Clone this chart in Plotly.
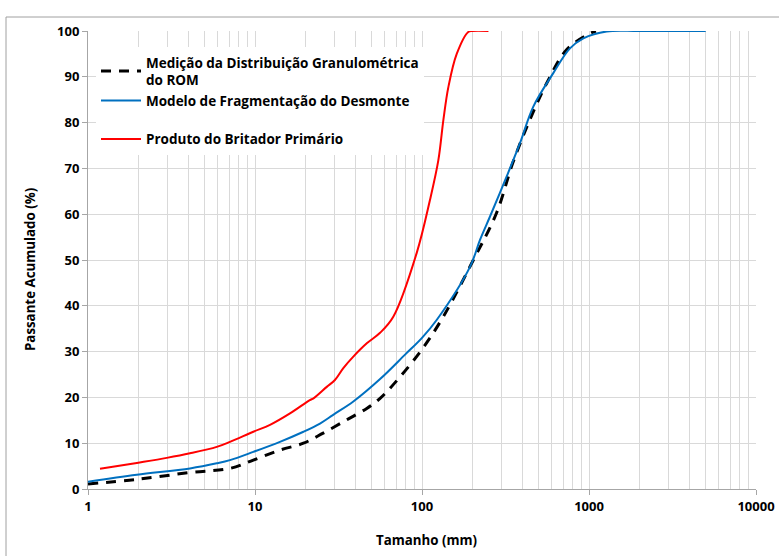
import plotly.graph_objects as go

# Medição da Distribuição Granulométrica do ROM
med_x = [1.0, 1.96, 4.08, 7.08, 9.77, 14.1, 19.5, 25.6, 35.4, 46.7, 56.1, 70, 100, 134, 203, 279, 349, 442, 558, 734, 969, 1100]
med_y = [1.1, 2.1, 3.6, 4.5, 6.3, 8.5, 10.0, 12.2, 15.1, 17.6, 19.8, 23.5, 30.5, 37.6, 50.0, 60.2, 71.1, 80.6, 88.6, 95.9, 99.1, 100]

# Modelo de Fragmentação do Desmonte
mod_x = [1.0, 1.96, 4.08, 5.9, 7.08, 9.77, 14.1, 19.5, 24.5, 29.4, 38.8, 56.1, 80, 100, 122.4, 193.8, 222.5, 255.4, 321, 386, 464, 611, 769, 925, 1276, 2000, 5000]
mod_y = [1.6, 3.1, 4.5, 5.6, 6.3, 8.1, 10.3, 12.5, 14.3, 16.2, 19.1, 24.0, 29.5, 33.0, 36.9, 48.5, 54.4, 59.5, 68.2, 75.5, 83.5, 90.8, 96.2, 98.4, 99.9, 100, 100]

# Produto do Britador Primário
bri_x = [1.18, 1.96, 2.96, 4.08, 5.9, 7.08, 9.77, 12.3, 16.2, 21.3, 22.4, 26.9, 30.1, 33.8, 38.8, 46.7, 56.1, 67.3, 92.9, 111.6, 125.3, 134.3, 143.9, 161.4, 189.3, 200, 250]
bri_y = [4.4, 5.7, 6.8, 7.8, 9.2, 10.3, 12.5, 14.0, 16.5, 19.4, 19.8, 22.3, 23.8, 26.4, 28.9, 31.8, 34.1, 37.6, 51.5, 63.1, 71.8, 80.6, 87.8, 95.0, 99.8, 100, 100]

x_ticks = [1, 10, 100, 1000, 10000]
y_ticks = [0, 10, 20, 30, 40, 50, 60, 70, 80, 90, 100]

FONT = "Open Sans"
W, H = 779, 556
L, R, T, B = 88, 23, 31, 67
pw, ph = W - L - R, H - T - B

def px(xp):
    return (xp - L) / pw

def py(yp):
    return (H - B - yp) / ph

fig = go.Figure()
fig.add_trace(go.Scatter(x=med_x, y=med_y, mode="lines", line=dict(color="black", width=3, dash="10px,8px"),
                         name="Medição da Distribuição Granulométrica<br>do ROM", legendgroup="a", line_shape="spline"))
fig.add_trace(go.Scatter(x=mod_x, y=mod_y, mode="lines", line=dict(color="#0070C0", width=2),
                         name="Modelo de Fragmentação do Desmonte", legendgroup="a", line_shape="spline"))
fig.add_trace(go.Scatter(x=bri_x, y=bri_y, mode="lines", line=dict(color="#FF0000", width=2),
                         name="Produto do Britador Primário", legendgroup="b", line_shape="spline"))

title_font = dict(family=FONT, size=13.3, color="black", weight="bold")

fig.update_layout(
    width=W, height=H,
    margin=dict(l=L, r=R, t=T, b=B, autoexpand=False),
    paper_bgcolor="white", plot_bgcolor="white",
    font=dict(family=FONT, color="black", size=13),
    showlegend=True,
    legend=dict(x=px(96), y=py(47), xanchor="left", yanchor="top", bgcolor="white",
                font=dict(family=FONT, size=13.5, color="black", weight="bold"),
                tracegroupgap=18, itemwidth=40),
    xaxis=dict(type="log", range=[0, 4], tickvals=x_ticks, ticktext=[str(v) for v in x_ticks],
               showgrid=True, gridcolor="#d9d9d9", gridwidth=1, automargin=False,
               minor=dict(dtick="D1", showgrid=True, gridcolor="#d9d9d9", gridwidth=1, ticks=""),
               showline=True, linecolor="#a6a6a6", linewidth=1, ticks="outside", ticklen=5, tickcolor="#a6a6a6",
               tickfont=dict(family=FONT, size=13, weight="bold"),
               zeroline=False),
    yaxis=dict(range=[0, 100], tickvals=y_ticks, showgrid=True, gridcolor="#d9d9d9", gridwidth=1, automargin=False,
               showline=True, linecolor="#a6a6a6", linewidth=1, ticks="outside", ticklen=5, tickcolor="#a6a6a6",
               tickfont=dict(family=FONT, size=13, weight="bold"),
               zeroline=False),
    shapes=[dict(type="rect", xref="paper", yref="paper", x0=px(6), y0=py(570), x1=px(790), y1=py(17),
                 line=dict(color="#a0a0a0", width=1), fillcolor="rgba(0,0,0,0)", layer="below")],
    annotations=[
        dict(text="Tamanho (mm)", xref="paper", yref="paper", x=px(426), y=py(540),
             xanchor="center", yanchor="middle", showarrow=False, font=title_font),
        dict(text="Passante Acumulado (%)", xref="paper", yref="paper", x=px(30), y=py(270),
             xanchor="center", yanchor="middle", showarrow=False, textangle=-90, font=title_font),
    ],
)

fig.write_html("out.html", config={"displayModeBar": False},
               post_script="document.body.style.margin='0';document.body.style.overflow='hidden';")
